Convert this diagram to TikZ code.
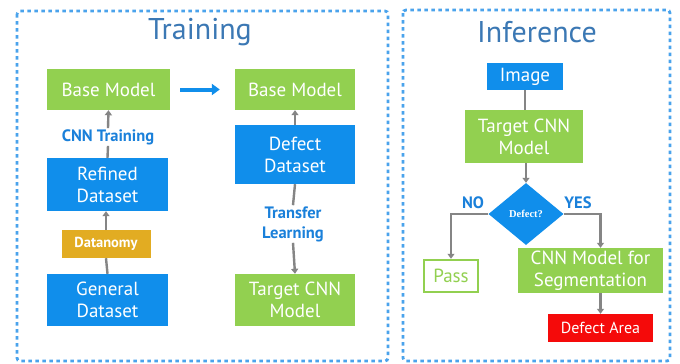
\documentclass[tikz,border=0pt]{standalone}
\usepackage{fontspec}
\setmainfont{PT Sans}
\newfontfamily\serifbold{Liberation Serif}
\usetikzlibrary{arrows.meta,shapes.geometric}
\definecolor{gbox}{HTML}{92D050}
\definecolor{bbox}{HTML}{108EEB}
\definecolor{ybox}{HTML}{E2AC22}
\definecolor{rbox}{HTML}{F50A0A}
\definecolor{framec}{HTML}{4AA3EC}
\definecolor{titlec}{HTML}{3B78B4}
\definecolor{lblc}{HTML}{1A80DA}
\definecolor{linec}{HTML}{858585}
\begin{document}
\begin{tikzpicture}[x=1pt,y=-1pt,
  box/.style={rectangle, inner sep=0pt, align=center, text=white, font=\fontsize{19}{22}\selectfont},
  green/.style={box, fill=gbox},
  blue/.style={box, fill=bbox},
  frame/.style={draw=framec, line width=2.8pt, dash pattern=on 3.5pt off 3.5pt, rounded corners=3pt},
  title/.style={text=titlec, font=\fontsize{30}{34}\selectfont},
  lbl/.style={text=lblc, font=\bfseries\fontsize{16.5}{20}\selectfont, align=center, inner sep=1pt},
  conn/.style={draw=linec, line width=2.4pt},
  arr/.style={conn, -{Triangle[width=7pt,length=5pt]}},
]
\useasboundingbox (0,0) rectangle (680,364);
\fill[white] (0,0) rectangle (680,364);
% frames
\draw[frame] (17,11) rectangle (388,361);
\draw[frame] (403,10) rectangle (670,361);
\node[title] (ttrain) at (200,32) {Training};
\node[title] (tinf) at (537,32) {Inference};
% training left column
\node[green, minimum width=123pt, minimum height=41pt] (baseL) at (108.5,89.5) {Base Model};
\node[blue, minimum width=121pt, minimum height=53pt] (refined) at (107.5,184.5) {Refined\\Dataset};
\node[box, fill=ybox, minimum width=89pt, minimum height=28pt, font=\bfseries\fontsize{14.5}{16}\selectfont] (datanomy) at (106,244) {Datanomy};
\node[blue, minimum width=121pt, minimum height=52pt] (general) at (107.5,300) {General\\Dataset};
\node[lbl] (cnntr) at (108,137) {CNN Training};
% training right column
\node[green, minimum width=120pt, minimum height=41pt] (baseR) at (295,89.5) {Base Model};
\node[blue, minimum width=120pt, minimum height=59pt] (defect) at (295,154.5) {Defect\\Dataset};
\node[lbl] (transfer) at (293,224) {Transfer\\Learning};
\node[green, minimum width=120pt, minimum height=52pt] (targetL) at (295,300) {Target CNN\\Model};
% training connectors
\draw[conn] (refined.north) -- (cnntr.south);
\draw[arr] (cnntr.north) -- (baseL.south);
\draw[conn] (general.north) -- (datanomy.south);
\draw[arr] (datanomy.north) -- (datanomy.north |- refined.south);
\draw[draw=bbox, line width=4pt, -{Triangle[width=11pt,length=8pt]}] ([xshift=10pt]baseL.east) -- ([xshift=-15pt]baseR.west);
\draw[arr] (defect.north) -- (baseR.south);
\draw[conn] (defect.south) -- (transfer.north);
\draw[arr] (transfer.south) -- (targetL.north);
% inference
\node[blue, minimum width=76pt, minimum height=27pt] (image) at (525,76.5) {Image};
\node[green, minimum width=118pt, minimum height=53pt] (targetR) at (524,136.5) {Target CNN\\Model};
\node[diamond, fill=bbox, inner sep=0pt, minimum width=75pt, minimum height=62pt, text=white, font=\serifbold\bfseries\fontsize{10.5}{12}\selectfont] (dec) at (526,214) {Defect?};
\node[box, fill=white, draw=gbox, line width=2.5pt, text=gbox, minimum width=54pt, minimum height=32pt] (pass) at (451,276) {Pass};
\node[green, minimum width=145pt, minimum height=45pt] (seg) at (590.5,270.5) {CNN Model for\\Segmentation};
\node[box, fill=rbox, minimum width=105pt, minimum height=28pt, font=\fontsize{16}{18}\selectfont] (area) at (600.5,328) {Defect Area};
\node[lbl] (no) at (473,203) {NO};
\node[lbl] (yes) at (578,203) {YES};
\draw[conn] (image.south) -- (image.south |- targetR.north);
\draw[arr] (dec.north |- targetR.south) -- (dec.north);
\draw[arr] (dec.west) -| (pass.north);
\draw[arr] (dec.east) -| (area.north |- seg.north);
\draw[arr] (area.north |- seg.south) -- (area.north);
\end{tikzpicture}
\end{document}
